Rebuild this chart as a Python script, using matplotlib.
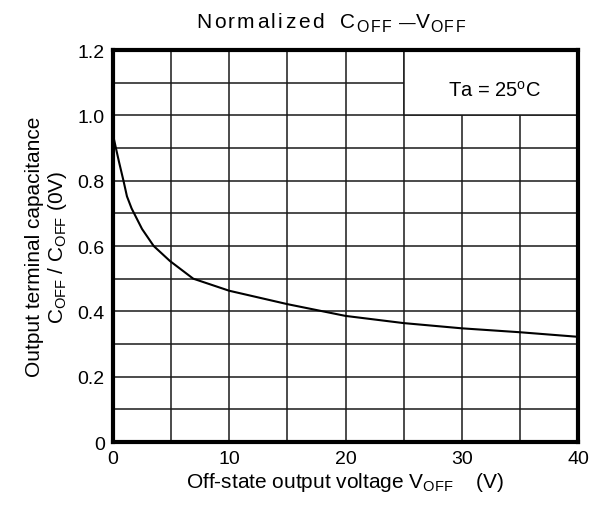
import numpy as np
import matplotlib
matplotlib.use("Agg")
import matplotlib.pyplot as plt
import matplotlib.patches as mpatches

plt.rcParams['font.family'] = ['Liberation Sans', 'DejaVu Sans']
plt.rcParams['mathtext.fontset'] = 'custom'
plt.rcParams['mathtext.rm'] = 'Liberation Sans'

# curve
v_off = [0.0, 0.5, 0.9, 1.2, 1.6, 2.5, 3.5, 4.9, 6.9, 10, 15, 20, 25, 30, 35, 40]
c_ratio = [0.94, 0.86, 0.80, 0.752, 0.715, 0.652, 0.60, 0.554, 0.50, 0.463, 0.422,
           0.386, 0.364, 0.348, 0.336, 0.322]

x_ticks = [0, 10, 20, 30, 40]
y_ticks = [0, 0.2, 0.4, 0.6, 0.8, 1.0, 1.2]
y_labels = ['0', '0.2', '0.4', '0.6', '0.8', '1.0', '1.2']

W, H = 596, 506
fig = plt.figure(figsize=(W / 100, H / 100), dpi=100)
ax = fig.add_axes([113 / W, 1 - 443 / H, 465 / W, 392 / H])

ax.set_xlim(0, 40)
ax.set_ylim(0, 1.2)

# grid
for gx in np.arange(5, 40, 5):
    ax.axvline(gx, color='#1a1a1a', lw=1.1, zorder=1)
for gy in np.arange(0.1, 1.2, 0.1):
    ax.axhline(gy, color='#1a1a1a', lw=1.1, zorder=1)

# condition box hides grid in top-right corner
box = mpatches.Rectangle((25, 1.0), 15, 0.2, facecolor='white',
                         edgecolor='#1a1a1a', lw=1.1, zorder=2)
ax.add_patch(box)
ax.text(32.8, 1.08, r'Ta = 25$^{\mathregular{o}}$C', ha='center', va='center',
        fontsize=14.5, zorder=3)

ax.plot(v_off, c_ratio, color='black', lw=1.5, zorder=4)

ax.set_xticks(x_ticks)
ax.set_yticks(y_ticks)
ax.set_yticklabels(y_labels)
ax.tick_params(length=0, labelsize=14, pad=6)

for s in ax.spines.values():
    s.set_linewidth(3.0)
    s.set_zorder(5)

ax.set_xlabel(r'Off-state output voltage $\mathregular{V_{OFF}}$    (V)', fontsize=15, labelpad=2)
ax.set_ylabel('Output terminal capacitance\n'
              r'$\mathregular{C_{OFF}}$ / $\mathregular{C_{OFF}}$ (0V)', fontsize=15,
              labelpad=6, linespacing=1.1)

# letter-spaced title, laid out piece by piece in pixels
renderer = fig.canvas.get_renderer()
title_parts = [('Normalized', 15, 0, 2.4), (' ', 15, 0, 14), ('C', 15, 0, 1.5),
               ('OFF', 11.5, -3.5, 1.8), (' ', 15, 0, 5), ('\u2014', 12, 0, 0.5),
               ('V', 15, 0, 0.5), ('OFF', 11.5, -3.5, 1.8)]
x = 196.0
base = H - 28.5
for chunk, size, dy, track in title_parts:
    for ch in chunk:
        if ch == ' ':
            x += track
            continue
        t = fig.text(x / W, (base + dy) / H, ch, fontsize=size, va='baseline', ha='left')
        w = t.get_window_extent(renderer).width
        x += w + track

plt.savefig('out.png', dpi=100)
